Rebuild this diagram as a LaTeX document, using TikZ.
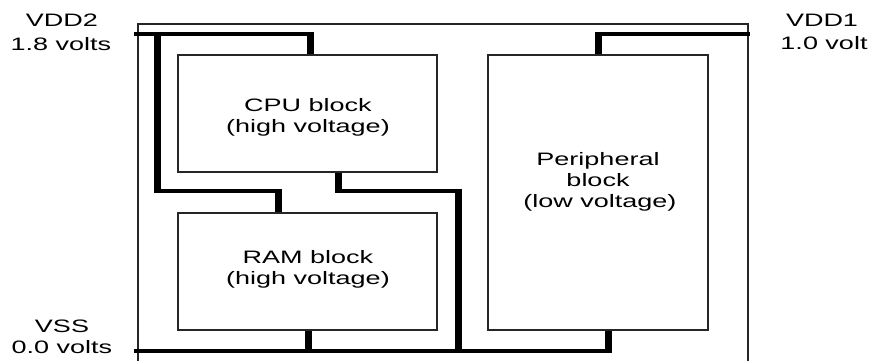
\documentclass[tikz,border=0pt]{standalone}
\usepackage{fontspec}
\setmainfont{Liberation Sans}
\begin{document}
\begin{tikzpicture}[x=1pt,y=-1pt,
  lbl/.style={anchor=base,inner sep=0pt,xscale=1.5,font=\fontsize{18}{21}\selectfont},
  blk/.style={draw=black!85,line width=1.2pt,inner sep=0pt,minimum width=#1},
  frame/.style={draw=black!85,line width=1.2pt},
  hw/.style={draw=black,line width=4.6pt,line cap=rect},
  vw/.style={draw=black,line width=7pt,line cap=butt},
  ext0/.style={shorten <=-2.3pt},
  ext1/.style={shorten >=-2.3pt}]
\useasboundingbox (0,0) rectangle (872,361);
% outer frame
\draw[frame] (138,370) -- (138,24) -- (748,24) -- (748,370);
% blocks
\node[blk=259pt,minimum height=117pt] (cpu) at (307.5,113.5) {};
\node[blk=259pt,minimum height=117pt] (ram) at (307.5,271.5) {};
\node[blk=220pt,minimum height=275pt] (peri) at (598,192.5) {};
% block texts
\node[lbl] (cpu1) at (308,111) {CPU block};
\node[lbl] (cpu2) at (308,132) {(high voltage)};
\node[lbl] (ram1) at (308,263) {RAM block};
\node[lbl] (ram2) at (308,284) {(high voltage)};
\node[lbl] (per1) at (598,165) {Peripheral};
\node[lbl] (per2) at (598,186) {block};
\node[lbl] (per3) at (600,207) {(low voltage)};
% side labels
\node[lbl] (vdd2a) at (62,27) {VDD2};
\node[lbl] (vdd2b) at (61,51) {1.8 volts};
\node[lbl] (vdd1a) at (822,27) {VDD1};
\node[lbl] (vdd1b) at (824,50) {1.0 volt};
\node[lbl] (vssa) at (62,332) {VSS};
\node[lbl] (vssb) at (62,353) {0.0 volts};
% junction coordinates
\coordinate (L2) at (136,34);
\coordinate (T2) at (310,34);
\coordinate (J1) at (157,34);
\coordinate (J2) at (157,191);
\coordinate (J3) at (278,191);
\coordinate (K1) at (338,191);
\coordinate (K2) at (458,191);
\coordinate (K3) at (458,351);
\coordinate (B0) at (136,351);
\coordinate (B2) at (308,351);
\coordinate (B1) at (608,351);
\coordinate (T1) at (598,34);
\coordinate (R1) at (748,34);
% horizontal wires
\draw[hw] (L2) -- (T2);
\draw[hw] (J2) -- (J3);
\draw[hw] (K1) -- (K2);
\draw[hw] (B0) -- (B1);
\draw[hw] (T1) -- (R1);
% vertical wires
\draw[vw,ext0] (T2) -- (T2 |- cpu.north);
\draw[vw,ext0,ext1] (J1) -- (J2);
\draw[vw,ext0] (J3) -- (J3 |- ram.north);
\draw[vw,ext1] (K1 |- cpu.south) -- (K1);
\draw[vw,ext0,ext1] (K2) -- (K3);
\draw[vw,ext1] (B2 |- ram.south) -- (B2);
\draw[vw,ext1] (B1 |- peri.south) -- (B1);
\draw[vw,ext0] (T1) -- (T1 |- peri.north);
\end{tikzpicture}
\end{document}
